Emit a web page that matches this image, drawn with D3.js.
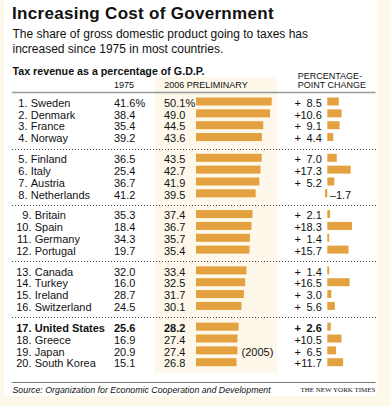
<!DOCTYPE html>
<html><head><meta charset="utf-8">
<script src="https://cdn.jsdelivr.net/npm/d3@7"></script>
<style>
html,body{margin:0;padding:0;background:#fdf8ea;}
svg{display:block;}
text{font-family:"Liberation Sans",Arial,Helvetica,sans-serif;fill:#111;}
</style></head>
<body>
<svg id="chart" width="391" height="406"></svg>
<script>
const countries = ["Sweden","Denmark","France","Norway","Finland","Italy","Austria","Netherlands","Britain","Spain","Germany","Portugal","Canada","Turkey","Ireland","Switzerland","United States","Greece","Japan","South Korea"];
const values1975 = [41.6,38.4,35.4,39.2,36.5,25.4,36.7,41.2,35.3,18.4,34.3,19.7,32.0,16.0,28.7,24.5,25.6,16.9,20.9,15.1];
const values2006 = [50.1,49.0,44.5,43.6,43.5,42.7,41.9,39.5,37.4,36.7,35.7,35.4,33.4,32.5,31.7,30.1,28.2,27.4,27.4,26.8];
const changes = [8.5,10.6,9.1,4.4,7.0,17.3,5.2,-1.7,2.1,18.3,1.4,15.7,1.4,16.5,3.0,5.6,2.6,10.5,6.5,11.7];
const highlight = "United States";
const notes = {"Japan":"(2005)"};
const headers = {y1975:"1975", y2006:"2006 PRELIMINARY", change:["PERCENTAGE-","POINT CHANGE"]};
const title = "Increasing Cost of Government";
const subtitle = ["The share of gross domestic product going to taxes has","increased since 1975 in most countries."];
const label = "Tax revenue as a percentage of G.D.P.";
const source = "Source: Organization for Economic Cooperation and Development";
const credit = "THE NEW YORK TIMES";

const svg = d3.select("#chart");
const ORANGE = "#e4a13f";
const CREAM = "#fdf8ea";

// panels
svg.append("rect").attr("x",4).attr("y",0).attr("width",373).attr("height",396).attr("fill","#ffffff");
svg.append("rect").attr("x",155).attr("y",77).attr("width",122).attr("height",296).attr("fill",CREAM);

// titles
svg.append("text").attr("x",12).attr("y",19).attr("font-size",17).attr("font-weight","bold")
  .attr("letter-spacing",0.3).text(title);
svg.selectAll(".sub").data(subtitle).join("text").attr("class","sub")
  .attr("x",12.5).attr("y",(d,i)=>37.5+i*15.8).attr("font-size",12).text(d=>d);
svg.append("text").attr("x",12.5).attr("y",74.5).attr("font-size",10.7).attr("font-weight","bold").text(label);

// headers
svg.append("text").attr("x",124).attr("y",88.2).attr("font-size",9).attr("text-anchor","middle").text(headers.y1975);
svg.append("text").attr("x",164.3).attr("y",88.2).attr("font-size",9).text(headers.y2006);
svg.selectAll(".hc").data(headers.change).join("text").attr("class","hc")
  .attr("x",297.7).attr("y",(d,i)=>78.9+i*9.3).attr("font-size",9).text(d=>d);
svg.append("line").attr("x1",12).attr("x2",375.5).attr("y1",92.5).attr("y2",92.5)
  .attr("stroke","#999").attr("stroke-width",1.5);

// row layout
const rows = countries.map((c,i)=>({
  rank:i+1, country:c, v1975:values1975[i], v2006:values2006[i], change:changes[i],
  group:Math.floor(i/4), slot:i+Math.floor(i/4)*0.75
}));
const y = d3.scaleLinear().domain([0,22]).range([102.7,363.4]);
const x2006 = d3.scaleLinear().domain([0,50.1]).range([196,271.7]);
const xChg = d3.scaleLinear().domain([0,18.3]).range([327.3,352]);

// separators
for(let g=1; g<5; g++){
  const a = y(g*4-1+(g-1)*0.75), b = y(g*4+g*0.75);
  const yy = Math.round((a+b)/2)+0.5;
  svg.append("line").attr("x1",12).attr("x2",376).attr("y1",yy).attr("y2",yy)
    .attr("stroke","#555").attr("stroke-width",1).attr("stroke-dasharray","1,2");
}

const fmt = d3.format(".1f");
const rowG = svg.selectAll(".row").data(rows).join("g").attr("class","row")
  .attr("transform",d=>`translate(0,${y(d.slot)})`)
  .attr("font-weight",d=>d.country===highlight?"bold":"normal");

const rankEnd = d=> d.group<2 ? 27.5 : 31.5;
rowG.append("text").attr("x",d=>rankEnd(d)).attr("y",4).attr("font-size",11).attr("text-anchor","end").text(d=>d.rank+".");
rowG.append("text").attr("x",d=>rankEnd(d)+3.2).attr("y",4).attr("font-size",11).text(d=>d.country);
rowG.append("text").attr("x",114).attr("y",4).attr("font-size",11).text(d=>fmt(d.v1975)+(d.rank===1?"%":""));
rowG.append("text").attr("x",164).attr("y",4).attr("font-size",11).text(d=>fmt(d.v2006)+(d.rank===1?"%":""));
rowG.append("rect").attr("x",x2006(0)).attr("y",-5.2).attr("height",8)
  .attr("width",d=>x2006(d.v2006)-x2006(0)).attr("fill",ORANGE);
rowG.filter(d=>notes[d.country]).append("text").attr("x",241.5).attr("y",4).attr("font-size",11).text(d=>notes[d.country]);

// change column
const pos = rowG.filter(d=>d.change>=0);
pos.append("text").attr("x",294.5).attr("y",4).attr("font-size",11).text("+");
pos.append("text").attr("x",321.8).attr("y",4).attr("font-size",11).attr("text-anchor","end").text(d=>fmt(d.change));
rowG.append("rect").attr("x",d=>Math.min(xChg(0),xChg(d.change))).attr("y",-5.2).attr("height",8)
  .attr("width",d=>Math.abs(xChg(d.change)-xChg(0))).attr("fill",ORANGE);
rowG.filter(d=>d.change<0).append("text").attr("x",xChg(0)+2.5).attr("y",4).attr("font-size",11)
  .text(d=>"\u2013"+fmt(-d.change));

// footer
svg.append("line").attr("x1",12).attr("x2",375.5).attr("y1",382.5).attr("y2",382.5).attr("stroke","#777").attr("stroke-width",1);
svg.append("text").attr("x",12.5).attr("y",392.5).attr("font-size",8.8).attr("font-style","italic").text(source);
svg.append("text").attr("x",375.5).attr("y",392).attr("font-size",7).attr("text-anchor","end")
  .style("font-family","'Liberation Serif','Times New Roman',serif").text(credit);
</script>
</body></html>
